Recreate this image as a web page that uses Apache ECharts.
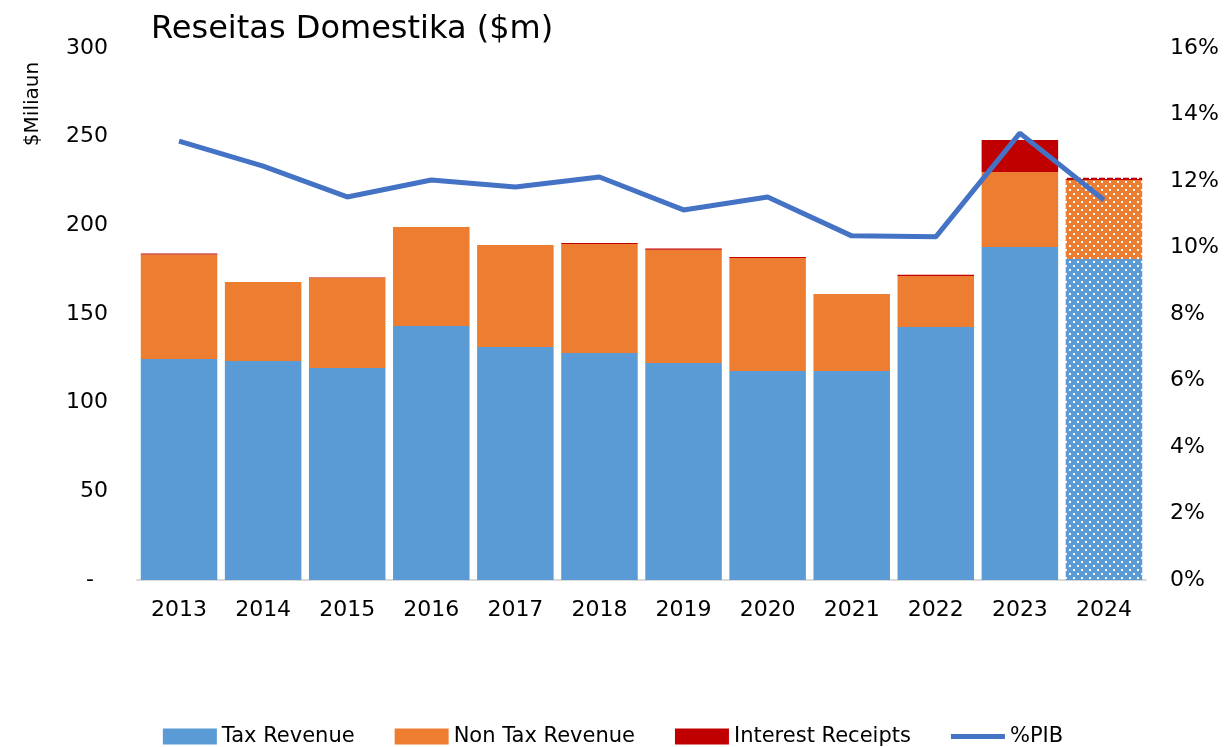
<!DOCTYPE html>
<html>
<head>
<meta charset="utf-8">
<script src="https://cdn.jsdelivr.net/npm/echarts@6/dist/echarts.min.js"></script>
<style>
  html, body { margin: 0; padding: 0; background: #fff; }
  #chart { width: 1226px; height: 747px; }
</style>
</head>
<body>
<div id="chart"></div>
<script>
const years = ['2013', '2014', '2015', '2016', '2017', '2018', '2019', '2020', '2021', '2022', '2023', '2024'];
const taxRevenue = [124.6, 123.5, 119.5, 143.2, 131.4, 128.0, 122.4, 117.9, 117.9, 142.7, 187.8, 181.0];
const nonTaxRevenue = [59.0, 44.5, 50.8, 55.8, 57.5, 61.5, 63.8, 63.7, 43.4, 28.7, 42.3, 44.6];
const interestReceipts = [0.5, 0, 0.3, 0, 0, 0.6, 0.8, 0.5, 0, 0.7, 18.0, 1.2];
const pctPIB = [13.2, 12.45, 11.52, 12.03, 11.82, 12.12, 11.13, 11.52, 10.35, 10.32, 13.44, 11.43];

// dotted fill used for the 2024 (projected) bar
function dots(color) {
    const c = document.createElement('canvas');
    c.width = 8; c.height = 8;
    const ctx = c.getContext('2d');
    ctx.fillStyle = color;
    ctx.fillRect(0, 0, 8, 8);
    ctx.fillStyle = '#ffffff';
    ctx.fillRect(1, 1, 2, 2);
    ctx.fillRect(5, 5, 2, 2);
    return { image: c, repeat: 'repeat' };
}

const colors = { tax: '#5b9bd5', nonTax: '#ed7d31', interest: '#c00000', line: '#4472c4' };

function withLastDotted(values, color) {
    return values.map((v, i) => i === values.length - 1
        ? { value: v, itemStyle: { color: dots(color) } }
        : v);
}

const myChart = echarts.init(document.getElementById('chart'));
const font = "'DejaVu Sans', sans-serif";

const option = {
    animation: false,
    textStyle: { fontFamily: font },
    title: {
        text: 'Reseitas Domestika ($m)',
        left: 146,
        top: 9,
        textStyle: { fontFamily: font, fontSize: 32, fontWeight: 'normal', color: '#000' }
    },
    graphic: [{
        type: 'text',
        x: 33,
        y: 104,
        rotation: Math.PI / 2,
        style: { text: '$Miliaun', fontFamily: font, fontSize: 20, fill: '#000', align: 'center', verticalAlign: 'middle' }
    }],
    legend: {
        top: 721,
        left: 'center',
        itemWidth: 54,
        itemHeight: 16,
        itemGap: 40,
        textStyle: { fontFamily: font, fontSize: 21, color: '#000' },
        data: [
            { name: 'Tax Revenue', icon: 'rect' },
            { name: 'Non Tax Revenue', icon: 'rect' },
            { name: 'Interest Receipts', icon: 'rect' },
            { name: '%PIB', icon: 'path://M0,0 L54,0 L54,5 L0,5 Z' }
        ]
    },
    grid: { left: 137, right: 80, top: 48, bottom: 167 },
    xAxis: {
        type: 'category',
        data: years,
        axisTick: { show: false },
        axisLine: { lineStyle: { color: '#d9d9d9', width: 2 } },
        axisLabel: { color: '#000', fontSize: 22, margin: 19 }
    },
    yAxis: [
        {
            type: 'value',
            min: 0, max: 300, interval: 50,
            splitLine: { show: false },
            axisLine: { show: false },
            axisTick: { show: false },
            axisLabel: {
                color: '#000', fontSize: 22, margin: 29,
                formatter: v => v === 0 ? '-  ' : String(v)
            }
        },
        {
            type: 'value',
            min: 0, max: 16, interval: 2,
            splitLine: { show: false },
            axisLine: { show: false },
            axisTick: { show: false },
            axisLabel: { color: '#000', fontSize: 22, margin: 24, formatter: '{value}%' }
        }
    ],
    series: [
        {
            name: 'Tax Revenue',
            type: 'bar',
            stack: 'rev',
            barCategoryGap: '9%',
            itemStyle: { color: colors.tax },
            data: withLastDotted(taxRevenue, colors.tax)
        },
        {
            name: 'Non Tax Revenue',
            type: 'bar',
            stack: 'rev',
            itemStyle: { color: colors.nonTax },
            data: withLastDotted(nonTaxRevenue, colors.nonTax)
        },
        {
            name: 'Interest Receipts',
            type: 'bar',
            stack: 'rev',
            itemStyle: { color: colors.interest },
            data: withLastDotted(interestReceipts, colors.interest)
        },
        {
            name: '%PIB',
            type: 'line',
            yAxisIndex: 1,
            showSymbol: false,
            symbol: 'none',
            lineStyle: { color: colors.line, width: 5 },
            itemStyle: { color: colors.line },
            data: pctPIB
        }
    ]
};

myChart.setOption(option);
window.addEventListener('resize', () => myChart.resize());
</script>
</body>
</html>
